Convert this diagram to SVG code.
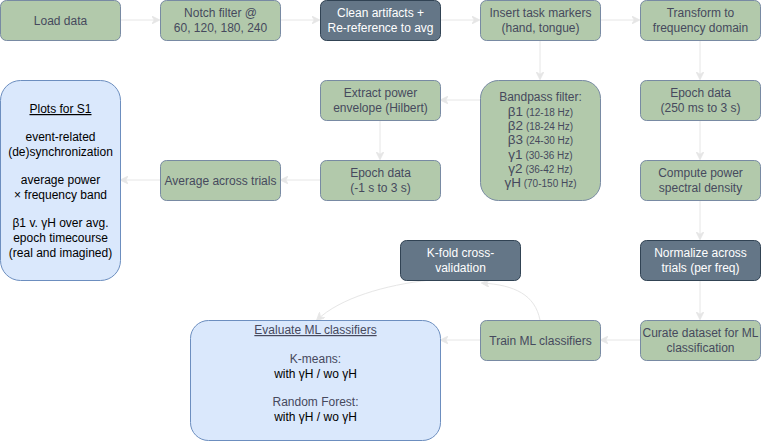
<svg xmlns="http://www.w3.org/2000/svg" width="761" height="441" viewBox="0 0 761 441">
<style>
text{font-family:"Liberation Sans",Arial,sans-serif;font-size:12px;text-anchor:middle}
.g rect{fill:#B2C9AB;stroke:#788AA3;stroke-width:1}
.g text{fill:#46495D}
.d rect{fill:#647687;stroke:#314354;stroke-width:1}
.d text{fill:#ffffff}
.b rect{fill:#DAE8FC;stroke:#6C8EBF;stroke-width:1}
.b text{fill:#000000}
.b text.m{fill:#46495D}
.c path{fill:none;stroke:#E6E6E6;stroke-width:1;marker-end:url(#ah)}
.sm{font-size:10px}
.gk{font-size:13.5px}
</style>
<defs>
<marker id="ah" viewBox="0 0 10 10" refX="9" refY="5" markerWidth="8" markerHeight="8" orient="auto" markerUnits="userSpaceOnUse">
<path d="M0,0 L10,5 L0,10 L3,5 Z" fill="#E6E6E6" stroke="#E6E6E6"/>
</marker>
</defs>
<g class="c" id="connectors">
<path d="M120,20 H159"/>
<path d="M280,20 H319"/>
<path d="M440,20 H479"/>
<path d="M600,20 H639"/>
<path d="M540,40 V79"/>
<path d="M700,40 V79"/>
<path d="M480,100 H441"/>
<path d="M380,120 V159"/>
<path d="M320,180 H281"/>
<path d="M160,180 H121"/>
<path d="M700,120 V159"/>
<path d="M700,200 V239"/>
<path d="M700,280 V319"/>
<path d="M640,340 H601"/>
<path d="M480,340 H441"/>
<path d="M540,320 C535,295 515,285 482,283"/>
<path d="M430,280 C385,285 340,298 317,320"/>
</g>
<g id="load" class="g"><rect x="0.5" y="0.5" width="120" height="40" rx="6"/><text x="60.5" y="25">Load data</text></g>
<g id="notch" class="g"><rect x="160.5" y="0.5" width="120" height="40" rx="6"/><text x="220.5" y="17">Notch filter @</text><text x="220.5" y="32">60, 120, 180, 240</text></g>
<g id="clean" class="d"><rect x="320.5" y="0.5" width="120" height="40" rx="6"/><text x="380.5" y="17">Clean artifacts +</text><text x="380.5" y="32">Re-reference to avg</text></g>
<g id="insert" class="g"><rect x="480.5" y="0.5" width="120" height="40" rx="6"/><text x="540.5" y="17">Insert task markers</text><text x="540.5" y="32">(hand, tongue)</text></g>
<g id="transform" class="g"><rect x="640.5" y="0.5" width="120" height="40" rx="6"/><text x="700.5" y="17">Transform to</text><text x="700.5" y="32">frequency domain</text></g>
<g id="extract" class="g"><rect x="320.5" y="80.5" width="120" height="40" rx="6"/><text x="380.5" y="97">Extract power</text><text x="380.5" y="112">envelope (Hilbert)</text></g>
<g id="bandpass" class="g"><rect x="480.5" y="80.5" width="120" height="120" rx="18"/>
<text x="540.5" y="101">Bandpass filter:</text>
<text x="540.5" y="116"><tspan class="gk">β1</tspan><tspan class="sm"> (12-18 Hz)</tspan></text>
<text x="540.5" y="130"><tspan class="gk">β2</tspan><tspan class="sm"> (18-24 Hz)</tspan></text>
<text x="540.5" y="144"><tspan class="gk">β3</tspan><tspan class="sm"> (24-30 Hz)</tspan></text>
<text x="540.5" y="159"><tspan class="gk">γ1</tspan><tspan class="sm"> (30-36 Hz)</tspan></text>
<text x="540.5" y="173"><tspan class="gk">γ2</tspan><tspan class="sm"> (36-42 Hz)</tspan></text>
<text x="540.5" y="187"><tspan class="gk">γH</tspan><tspan class="sm"> (70-150 Hz)</tspan></text>
</g>
<g id="epoch250" class="g"><rect x="640.5" y="80.5" width="120" height="40" rx="6"/><text x="700.5" y="97">Epoch data</text><text x="700.5" y="112">(250 ms to 3 s)</text></g>
<g id="plots" class="b"><rect x="0.5" y="80.5" width="120" height="200" rx="20"/>
<text x="60.5" y="113" text-decoration="underline">Plots for S1</text>
<text x="60.5" y="141">event-related</text>
<text x="60.5" y="156">(de)synchronization</text>
<text x="60.5" y="184">average power</text>
<text x="60.5" y="199">× frequency band</text>
<text x="60.5" y="227">β1 v. γH over avg.</text>
<text x="60.5" y="242">epoch timecourse</text>
<text x="60.5" y="257">(real and imagined)</text>
</g>
<g id="average" class="g"><rect x="160.5" y="160.5" width="120" height="40" rx="6"/><text x="220.5" y="185">Average across trials</text></g>
<g id="epoch1" class="g"><rect x="320.5" y="160.5" width="120" height="40" rx="6"/><text x="380.5" y="177">Epoch data</text><text x="380.5" y="192">(-1 s to 3 s)</text></g>
<g id="psd" class="g"><rect x="640.5" y="160.5" width="120" height="40" rx="6"/><text x="700.5" y="177">Compute power</text><text x="700.5" y="192">spectral density</text></g>
<g id="kfold" class="d"><rect x="400.5" y="240.5" width="120" height="40" rx="6"/><text x="460.5" y="257">K-fold cross-</text><text x="460.5" y="272">validation</text></g>
<g id="normalize" class="d"><rect x="640.5" y="240.5" width="120" height="40" rx="6"/><text x="700.5" y="257">Normalize across</text><text x="700.5" y="272">trials (per freq)</text></g>
<g id="evaluate" class="b"><rect x="190.5" y="320.5" width="250" height="120" rx="18"/>
<text class="m" x="315.5" y="334" text-decoration="underline">Evaluate ML classifiers</text>
<text class="m" x="315.5" y="363">K-means:</text>
<text x="315.5" y="378">with γH / wo γH</text>
<text class="m" x="315.5" y="406">Random Forest:</text>
<text x="315.5" y="421">with γH / wo γH</text>
</g>
<g id="train" class="g"><rect x="480.5" y="320.5" width="120" height="40" rx="6"/><text x="540.5" y="345">Train ML classifiers</text></g>
<g id="curate" class="g"><rect x="640.5" y="320.5" width="120" height="40" rx="6"/><text x="700.5" y="337">Curate dataset for ML</text><text x="700.5" y="352">classification</text></g>
</svg>
